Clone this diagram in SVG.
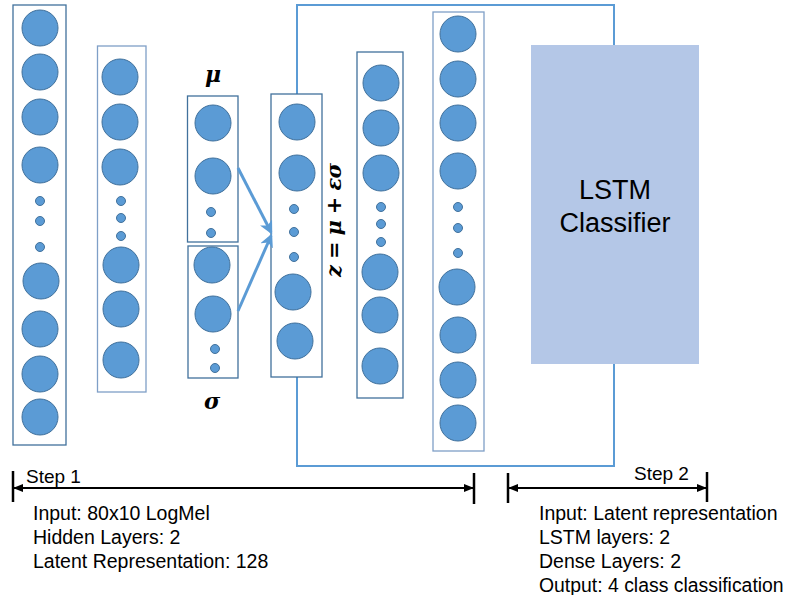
<svg xmlns="http://www.w3.org/2000/svg" width="792" height="595" viewBox="0 0 792 595">
<style>
.col{fill:#fff;stroke:#41719C;stroke-width:1.3}
.col2{fill:#fff;stroke:#7F9FC7;stroke-width:1.3}
.n{fill:#5B9BD5;stroke:#41719C;stroke-width:1}
.t{font-family:"Liberation Sans",Arial,sans-serif;fill:#000}
.m{font-family:"DejaVu Serif","Liberation Serif",serif;font-weight:bold;font-style:italic;fill:#000}
.blue{stroke:#5B9BD5;stroke-width:3;fill:none}
.blk{stroke:#000;fill:none}
</style>
<defs>
<marker id="ab" markerWidth="4.5" markerHeight="4.5" refX="3.6" refY="2.25" orient="auto" markerUnits="strokeWidth">
<path d="M0,0 L4.5,2.25 L0,4.5 L1.2,2.25 Z" fill="#5B9BD5"/>
</marker>
<marker id="ak" markerWidth="5" markerHeight="4" refX="4.5" refY="2" orient="auto-start-reverse" markerUnits="strokeWidth">
<path d="M0,0 L5,2 L0,4 Z" fill="#000"/>
</marker>
</defs>
<rect width="792" height="595" fill="#fff"/>

<g id="step2-frame">
<rect x="297" y="5" width="317" height="461" fill="none" stroke="#5B9BD5" stroke-width="2"/>
</g>

<g id="input-layer">
<rect class="col" x="13" y="5" width="53" height="440"/>
<circle class="n" cx="40" cy="28" r="18"/>
<circle class="n" cx="40" cy="72" r="18"/>
<circle class="n" cx="40" cy="117" r="18"/>
<circle class="n" cx="40" cy="165" r="18"/>
<circle class="n" cx="40" cy="201" r="4.5"/>
<circle class="n" cx="40" cy="221" r="4.5"/>
<circle class="n" cx="40" cy="247" r="4.5"/>
<circle class="n" cx="41" cy="281" r="18"/>
<circle class="n" cx="40" cy="329" r="18"/>
<circle class="n" cx="40" cy="374" r="18"/>
<circle class="n" cx="40" cy="417" r="18"/>
</g>

<g id="hidden-layer">
<rect class="col2" x="97.5" y="46" width="48.5" height="346"/>
<circle class="n" cx="120" cy="77" r="18"/>
<circle class="n" cx="120" cy="122" r="18"/>
<circle class="n" cx="120" cy="167" r="18"/>
<circle class="n" cx="121" cy="201" r="4.5"/>
<circle class="n" cx="121" cy="218" r="4.5"/>
<circle class="n" cx="121" cy="236" r="4.5"/>
<circle class="n" cx="121" cy="265" r="18"/>
<circle class="n" cx="121" cy="309" r="18"/>
<circle class="n" cx="121" cy="360" r="18"/>
</g>

<g id="mu-layer">
<rect class="col" x="187.5" y="96" width="50.5" height="146"/>
<circle class="n" cx="213" cy="123" r="18"/>
<circle class="n" cx="213" cy="176" r="18"/>
<circle class="n" cx="211" cy="212" r="4.5"/>
<circle class="n" cx="211" cy="233" r="4.5"/>
<text class="m" x="213" y="82" font-size="22" text-anchor="middle">μ</text>
</g>

<g id="sigma-layer">
<rect class="col" x="188" y="246" width="50" height="132"/>
<circle class="n" cx="212" cy="265" r="18"/>
<circle class="n" cx="213" cy="314" r="18"/>
<circle class="n" cx="215" cy="349" r="4.5"/>
<circle class="n" cx="215" cy="368" r="4.5"/>
<text class="m" x="212" y="409" font-size="22" text-anchor="middle">σ</text>
</g>

<g id="z-layer">
<rect class="col" x="271" y="94" width="51" height="283"/>
<circle class="n" cx="297" cy="122" r="18"/>
<circle class="n" cx="297" cy="173" r="18"/>
<circle class="n" cx="294" cy="209" r="4.5"/>
<circle class="n" cx="294" cy="232" r="4.5"/>
<circle class="n" cx="294" cy="257" r="4.5"/>
<circle class="n" cx="293" cy="292" r="18"/>
<circle class="n" cx="295" cy="341" r="18"/>
<text class="m" x="0" y="0" font-size="21" text-anchor="middle" transform="translate(341,220) rotate(-90)" textLength="114" lengthAdjust="spacing">z = μ + εσ</text>
</g>

<g id="decoder-hidden">
<rect class="col" x="357" y="52" width="46" height="346"/>
<circle class="n" cx="381" cy="83" r="18"/>
<circle class="n" cx="381" cy="128" r="18"/>
<circle class="n" cx="381" cy="173" r="18"/>
<circle class="n" cx="381" cy="207" r="4.5"/>
<circle class="n" cx="381" cy="224" r="4.5"/>
<circle class="n" cx="381" cy="242" r="4.5"/>
<circle class="n" cx="380" cy="272" r="18"/>
<circle class="n" cx="380" cy="315" r="18"/>
<circle class="n" cx="380" cy="366" r="18"/>
</g>

<g id="decoder-output">
<rect class="col2" x="433" y="12" width="51" height="439"/>
<circle class="n" cx="458" cy="34" r="18"/>
<circle class="n" cx="458" cy="79" r="18"/>
<circle class="n" cx="458" cy="123" r="18"/>
<circle class="n" cx="458" cy="171" r="18"/>
<circle class="n" cx="458" cy="207" r="4.5"/>
<circle class="n" cx="458" cy="228" r="4.5"/>
<circle class="n" cx="458" cy="253" r="4.5"/>
<circle class="n" cx="457" cy="287" r="18"/>
<circle class="n" cx="458" cy="335" r="18"/>
<circle class="n" cx="458" cy="380" r="18"/>
<circle class="n" cx="458" cy="423" r="18"/>
</g>

<g id="lstm-classifier">
<rect x="531" y="45" width="168" height="319" fill="#B4C7E7"/>
<text class="t" x="615" y="199" font-size="27" text-anchor="middle">LSTM</text>
<text class="t" x="615" y="232" font-size="27" text-anchor="middle">Classifier</text>
</g>

<g id="connectors">
<line class="blue" x1="238" y1="168" x2="271" y2="232" marker-end="url(#ab)"/>
<line class="blue" x1="238" y1="311" x2="271" y2="236" marker-end="url(#ab)"/>
<line class="blk" x1="13" y1="471" x2="13" y2="502" stroke-width="2.5"/>
<line class="blk" x1="474" y1="473" x2="474" y2="504" stroke-width="2.5"/>
<line class="blk" x1="14" y1="488" x2="473" y2="488" stroke-width="2" marker-start="url(#ak)" marker-end="url(#ak)"/>
<line class="blk" x1="508" y1="473" x2="508" y2="503" stroke-width="2.5"/>
<line class="blk" x1="707" y1="472" x2="707" y2="502" stroke-width="2.5"/>
<line class="blk" x1="509" y1="488" x2="706" y2="488" stroke-width="2" marker-start="url(#ak)" marker-end="url(#ak)"/>
</g>

<g id="step1-label">
<text class="t" x="26" y="483" font-size="19">Step 1</text>
<text class="t" x="33" y="520" font-size="19.5">Input: 80x10 LogMel</text>
<text class="t" x="33" y="544" font-size="19.5">Hidden Layers: 2</text>
<text class="t" x="33" y="568" font-size="19.5">Latent Representation: 128</text>
</g>

<g id="step2-label">
<text class="t" x="634" y="480" font-size="19">Step 2</text>
<text class="t" x="539" y="520" font-size="19.5">Input: Latent representation</text>
<text class="t" x="539" y="544" font-size="19.5">LSTM layers: 2</text>
<text class="t" x="539" y="568" font-size="19.5">Dense Layers: 2</text>
<text class="t" x="539" y="592" font-size="19.4">Output: 4 class classification</text>
</g>
</svg>
